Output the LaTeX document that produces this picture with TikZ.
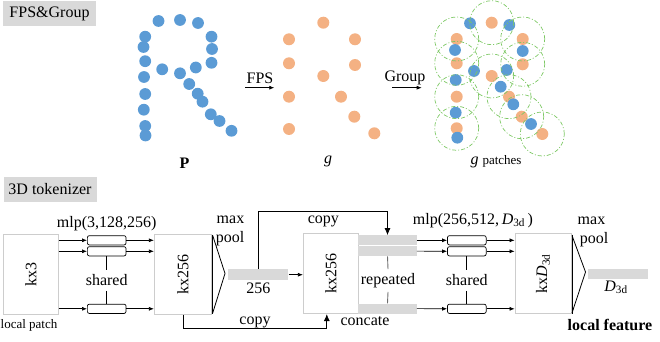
\documentclass[tikz,border=0pt]{standalone}
\usepackage{fontspec}
\setmainfont{Liberation Serif}
\usetikzlibrary{arrows.meta}
\definecolor{bluept}{RGB}{91,155,213}
\definecolor{orangept}{RGB}{244,177,131}
\definecolor{hdr}{RGB}{217,217,217}
\definecolor{boxline}{RGB}{205,205,205}
\definecolor{grp}{RGB}{125,200,100}
\definecolor{repline}{RGB}{110,110,110}
\newcommand\fsA{\fontsize{16}{18}\selectfont}
\newcommand\fsB{\fontsize{13}{15}\selectfont}
\tikzset{
  bigbox/.style={draw=boxline, line width=0.8pt, fill=white, minimum width=55pt, minimum height=80pt, inner sep=0pt, font=\fsA},
  mlpbox/.style={draw=black, rounded corners=2pt, line width=0.7pt, fill=white, minimum width=38.7pt, minimum height=9.3pt, inner sep=0pt},
  graybar/.style={fill=hdr, minimum width=58.4pt, minimum height=10pt, inner sep=0pt},
  hdrbox/.style={fill=hdr, inner sep=0pt, minimum width=93pt, minimum height=25pt, font=\fsA},
  arr/.style={-{Latex[length=5pt,width=4pt]}, line width=0.7pt},
  bigarr/.style={-{Latex[length=7pt,width=6pt]}, line width=0.7pt},
  lbl/.style={font=\fsA, inner sep=0pt},
  sharedlbl/.style={font=\fsA, inner sep=4.5pt},
  pool/.style={line width=0.8pt},
  grpcircle/.style={draw=grp, dash pattern=on 4pt off 2pt on 1pt off 2pt, line width=0.7pt}
}
\begin{document}
\begin{tikzpicture}[x=1pt,y=-1pt]
\useasboundingbox (0,0) rectangle (660,342);

% ---------- headers ----------
\node[hdrbox] (h1) at (49.5,14) {FPS\&Group};
\node[hdrbox] (h2) at (50,189.5) {3D tokenizer};

% ---------- P point cloud ----------
\foreach \px/\py in {158.5/21, 180/20, 198/23, 145.2/36.7, 143.5/47, 145.2/61.2, 144/77, 145.2/94, 143.8/109.7, 145.2/126, 145.5/135.5, 211.5/36.7, 212/49, 211.5/62.8, 162.2/69.3, 180/73.3, 195.8/67.5, 189.2/84, 197.7/93.7, 202.5/101.7, 210.8/114.3, 219.5/121, 231.5/130.8}
  \fill[bluept] (\px,\py) circle (5.9pt);

% ---------- g (FPS centres) ----------
\foreach \px/\py in {323.3/22.7, 289/39.3, 355/39.3, 289/63.3, 355/65, 323.3/76, 289/96.7, 341/96.7, 354.3/116.7, 289/129, 374.3/133.3}
  \fill[orangept] (\px,\py) circle (6pt);

% ---------- g patches ----------
\foreach \px/\py in {491.7/22.7, 456.7/39, 522.7/39, 456.7/63.3, 522.7/64.3, 491.7/76, 456.7/96.7, 509/96.7, 521.7/116.7, 456.7/128.3, 542.3/134}
  \fill[orangept] (\px,\py) circle (6pt);
\foreach \px/\py in {470/23.3, 509.3/25, 455/50, 522.7/51, 474/71, 506.7/70, 455.7/80, 500.7/86.7, 513.3/104.3, 455.7/112.7, 531/124, 457.3/137.7}
  \fill[bluept] (\px,\py) circle (5.9pt);
\foreach \px/\py in {491.7/22.7, 456.7/39, 522.7/39, 456.7/63.3, 522.7/64.3, 491.7/76, 456.7/96.7, 509/96.7, 521.7/116.7, 456.7/128.3, 542.3/134}
  \draw[grpcircle] (\px,\py) circle (22pt);

% ---------- FPS / Group arrows ----------
\coordinate (fa) at (245,87.7);
\coordinate (fb) at (274.3,87.7);
\draw[arr] (fa) -- (fb);
\node[lbl] (fpslbl) at (260,78) {FPS};
\coordinate (ga) at (392.3,87.7);
\coordinate (gb) at (421.7,87.7);
\draw[arr] (ga) -- (gb);
\node[lbl] (grouplbl) at (405,77.5) {Group};

\node[lbl] (plbl) at (184.5,163) {\textbf{P}};
\node[lbl] (glbl) at (328,161) {\textit{g}};
\node[lbl] (gplbl) at (496,162) {\textit{g} {\fsB patches}};

% ---------- 3D tokenizer ----------
\node[bigbox] (kx3) at (30.8,274) {\rotatebox{90}{kx3}};
\node[font=\fsB, inner sep=0pt] (lp) at (29,325) {local patch};

\node[mlpbox] (m1a) at (106.7,240.3) {};
\node[mlpbox] (m1b) at (106.7,251.3) {};
\node[mlpbox] (m1c) at (106.7,308.8) {};
\node[lbl] (mlp1) at (106.7,223.5) {mlp(3,128,256)};
\node[sharedlbl] (sh1) at (106.7,280.5) {shared};

\node[bigbox, minimum width=57.4pt] (kxA) at (183,274.3) {\rotatebox{90}{kx256}};

\foreach \m in {m1a,m1b,m1c}{
  \draw[arr] (kx3.east |- \m) -- (\m.west);
  \draw[arr] (\m.east) -- (kxA.west |- \m);
}
\draw[line width=0.7pt] (m1b.south) -- (sh1.north);
\draw[line width=0.7pt] (sh1.south) -- (m1c.north);

% max pool 1
\draw[pool] (212.7,234.5) -- (212.7,313.5);
\draw[pool] (212.7,235.5) -- (225,273.5) -- (212.7,313);
\node[lbl] (max1) at (230.5,220) {max};
\node[lbl] (pool1) at (230,239) {pool};

\node[graybar, minimum width=60pt, minimum height=10.7pt] (b256) at (258.3,274.7) {};
\node[lbl] (l256) at (258.3,288) {256};

\node[bigbox] (kxB) at (330.8,273.7) {\rotatebox{90}{kx256}};
\draw[arr] (b256.east) -- (kxB.west |- b256);

% repeated bars
\node[graybar] (r1) at (387.5,240.3) {};
\node[graybar] (r2) at (387.5,251.1) {};
\node[graybar] (r3) at (387.5,308.6) {};
\node[sharedlbl, inner sep=4pt] (rep) at (388,280.5) {repeated};
\draw[repline, line width=0.9pt] (r2.south) -- (rep.north);
\draw[repline, line width=0.9pt] (rep.south) -- (r3.north);
\node[lbl] (conc) at (365,321.5) {concate};

% copy paths
\draw[bigarr] (b256.north) -- (b256.north |- 0,211.7) -| (r1.north);
\node[lbl] (copy1) at (323.3,221) {copy};
\draw[bigarr] (kxA.south) -- ++(0,13.5) -| ([xshift=-4pt]kxB.south);
\node[lbl] (copy2) at (255,322) {copy};

% mlp 2
\node[mlpbox] (m2a) at (466.8,240.3) {};
\node[mlpbox] (m2b) at (466.8,251.3) {};
\node[mlpbox] (m2c) at (466.8,308.8) {};
\node[lbl] (mlp2) at (473,220.5) {mlp(256,512,\,\textit{D}\textsubscript{3d}\,)};
\node[sharedlbl] (sh2) at (466.8,280.5) {shared};

\node[bigbox, minimum width=56pt] (kxD) at (543,273.7) {\rotatebox{90}{kx\textit{D}\textsubscript{3d}}};

\draw[arr] (r1.east) -- (m2a.west);
\draw[arr] (r2.east) -- (m2b.west);
\draw[arr] (r3.east) -- (m2c.west);
\foreach \m in {m2a,m2b,m2c}{
  \draw[arr] (\m.east) -- (kxD.west |- \m);
}
\draw[line width=0.7pt] (m2b.south) -- (sh2.north);
\draw[line width=0.7pt] (sh2.south) -- (m2c.north);

% max pool 2
\draw[pool] (572,234.5) -- (572,313.5);
\draw[pool] (572,235.5) -- (585.5,272) -- (572,313);
\node[lbl] (max2) at (591.5,221) {max};
\node[lbl] (pool2) at (594,239.3) {pool};

\node[graybar, minimum width=60pt, minimum height=10.3pt] (bD) at (618.3,274.2) {};
\node[lbl] (lD) at (616,287.5) {\textit{D}\textsubscript{3d}};
\node[lbl] (lf) at (610,325) {\textbf{local feature}};
\end{tikzpicture}
\end{document}
